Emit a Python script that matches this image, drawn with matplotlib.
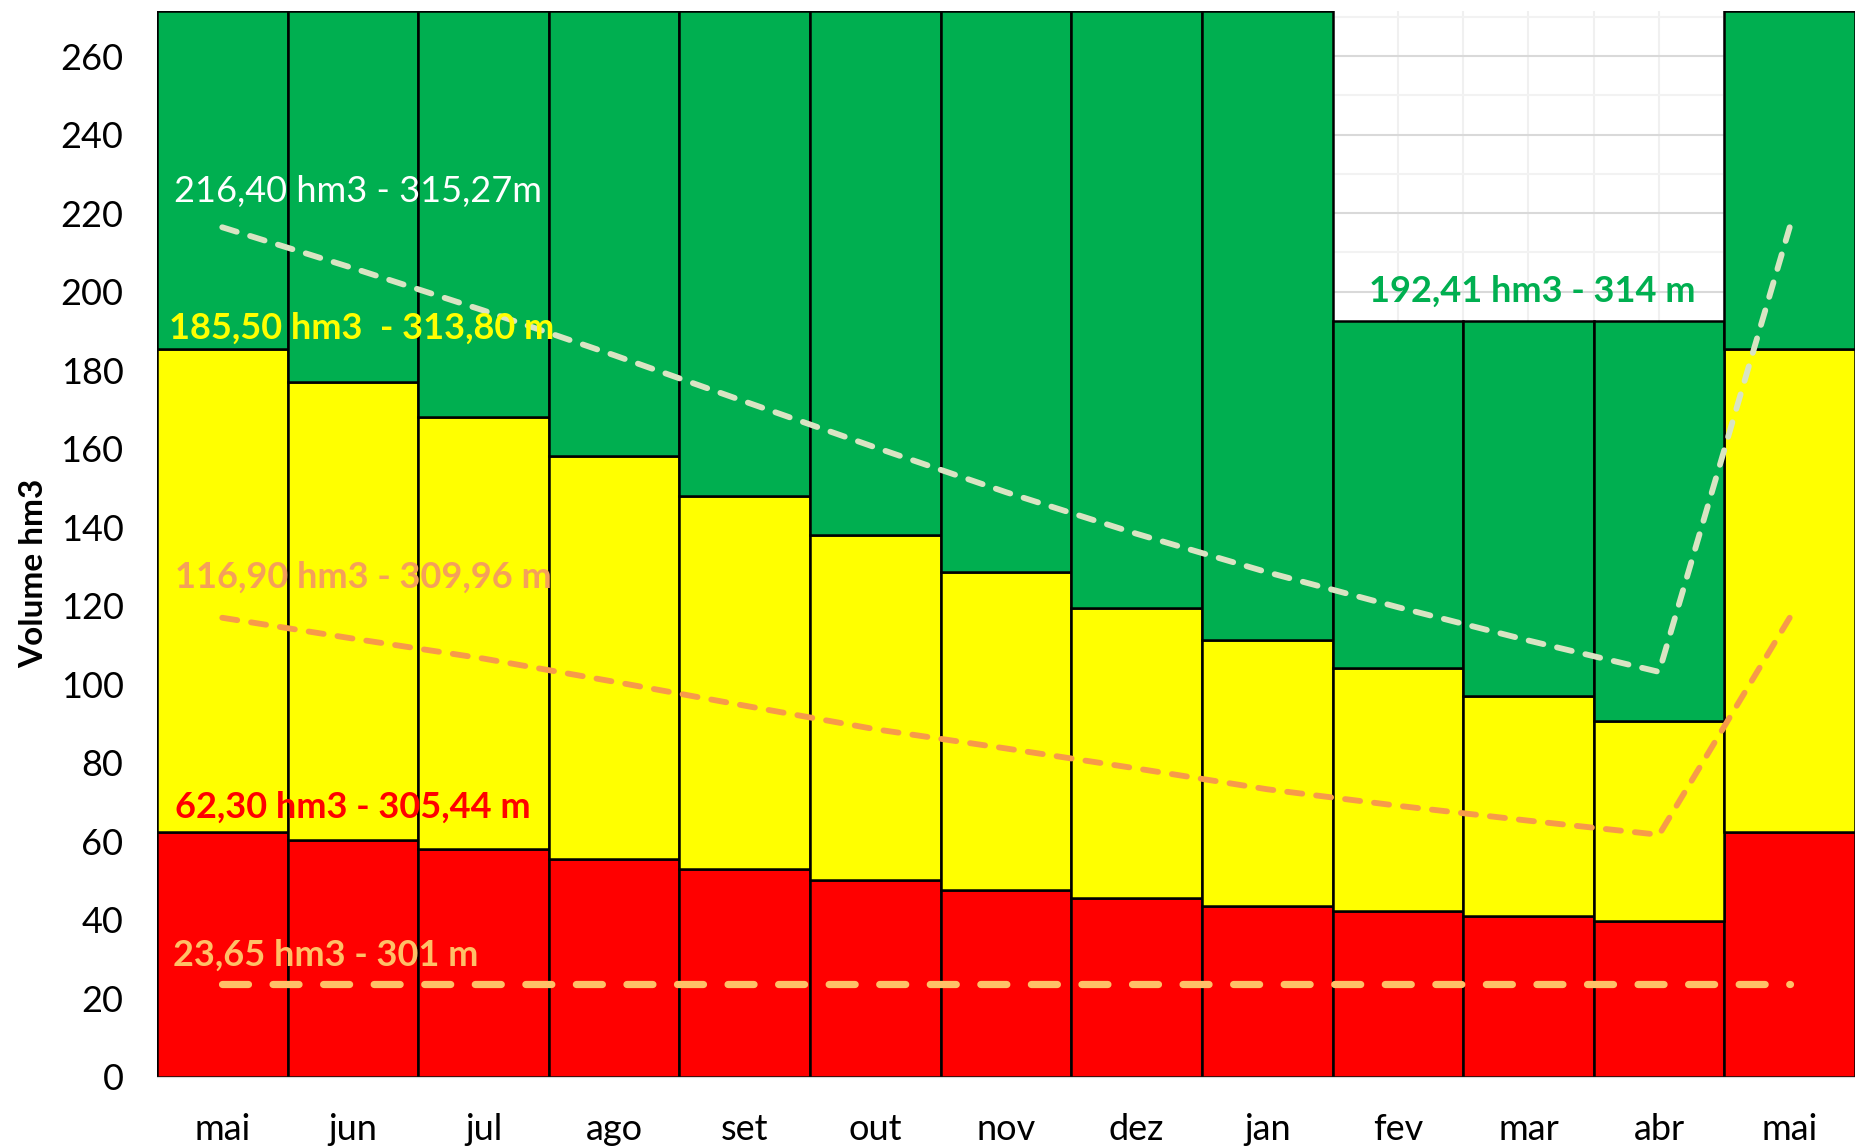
import matplotlib.pyplot as plt
from matplotlib.ticker import MultipleLocator

plt.rcParams['font.family'] = ['Lato', 'DejaVu Sans']

meses = ['mai', 'jun', 'jul', 'ago', 'set', 'out', 'nov', 'dez', 'jan', 'fev', 'mar', 'abr', 'mai']

# topo de cada faixa (hm3)
vermelho = [62.3, 60.3, 58.0, 55.4, 52.9, 50.0, 47.6, 45.5, 43.4, 42.2, 41.0, 39.6, 62.3]
amarelo = [185.5, 176.9, 168.1, 158.2, 147.9, 137.9, 128.6, 119.4, 111.2, 104.2, 97.0, 90.5, 185.5]
verde = [271.5] * 9 + [192.41] * 3 + [271.5]

# curvas tracejadas
curva_sup = [216.4, 206.0, 195.2, 183.8, 172.0, 160.3, 148.9, 138.3, 128.5, 119.6, 111.1, 103.1, 216.4]
curva_med = [116.9, 111.6, 106.5, 100.6, 94.5, 88.5, 83.6, 78.5, 73.2, 69.0, 65.2, 61.6, 116.9]
volume_min = [23.65] * 13

x = list(range(len(meses)))

fig = plt.figure(figsize=(18.55, 11.46), dpi=100)
ax = fig.add_axes([0.0846, 0.0606, 0.9154, 0.9298])

ax.bar(x, vermelho, width=1.0, color='#FF0000', edgecolor='black', linewidth=1.8, zorder=2)
ax.bar(x, [a - v for a, v in zip(amarelo, vermelho)], bottom=vermelho, width=1.0,
       color='#FFFF00', edgecolor='black', linewidth=1.8, zorder=2)
ax.bar(x, [g - a for g, a in zip(verde, amarelo)], bottom=amarelo, width=1.0,
       color='#00AF50', edgecolor='black', linewidth=1.8, zorder=2)

ax.plot(x, curva_sup, color='#D9E4C3', lw=4.2, dashes=(2.6, 2.4), dash_capstyle='round', zorder=3)
ax.plot(x, curva_med, color='#F79A4A', lw=4.2, dashes=(2.6, 2.4), dash_capstyle='round', zorder=3)
ax.plot(x, volume_min, color='#FFC067', lw=5.2, dashes=(3.6, 3.4), dash_capstyle='round', zorder=3)

fs = 26
ax.text(-0.37, 225.4, '216,40 hm3 - 315,27m', color='white', fontsize=fs, va='center', zorder=4)
ax.text(-0.41, 190.7, '185,50 hm3  - 313,80 m', color='#FFFF00', fontsize=fs, fontweight='bold',
        va='center', zorder=4)
ax.text(-0.36, 127.1, '116,90 hm3 - 309,96 m', color='#F5A05A', fontsize=fs, fontweight='bold',
        va='center', zorder=4)
ax.text(-0.36, 68.7, '62,30 hm3 - 305,44 m', color='#FF0000', fontsize=fs, fontweight='bold',
        va='center', zorder=4)
ax.text(-0.38, 31.0, '23,65 hm3 - 301 m', color='#FFC067', fontsize=fs, fontweight='bold',
        va='center', zorder=4)
ax.text(8.78, 200.0, '192,41 hm3 - 314 m', color='#00AF50', fontsize=fs, fontweight='bold',
        va='center', zorder=4)

ax.set_xlim(-0.5, 12.5)
ax.set_ylim(0, 271.5)
ax.set_xticks(x)
ax.set_xticklabels(meses)
ax.yaxis.set_major_locator(MultipleLocator(20))
ax.yaxis.set_minor_locator(MultipleLocator(10))
ax.xaxis.set_minor_locator(MultipleLocator(0.5))
ax.grid(which='major', axis='y', color='#D9D9D9', lw=1.5, zorder=0)
ax.grid(which='minor', axis='y', color='#F2F2F2', lw=1.5, zorder=0)
ax.grid(which='minor', axis='x', color='#F0F0F0', lw=1.5, zorder=0)
ax.grid(which='major', axis='x', color='#F0F0F0', lw=1.5, zorder=0)
ax.tick_params(axis='both', which='both', length=0, labelsize=26)
ax.tick_params(axis='x', pad=26)
ax.tick_params(axis='y', pad=24)

for s in ['top', 'right', 'left']:
    ax.spines[s].set_visible(False)
ax.spines['bottom'].set_color('#D9D9D9')

ax.set_ylabel('Volume hm3', fontsize=24, fontweight='bold')
ax.yaxis.set_label_coords(-0.064, 0.472)

fig.savefig('out.png', dpi=100)
